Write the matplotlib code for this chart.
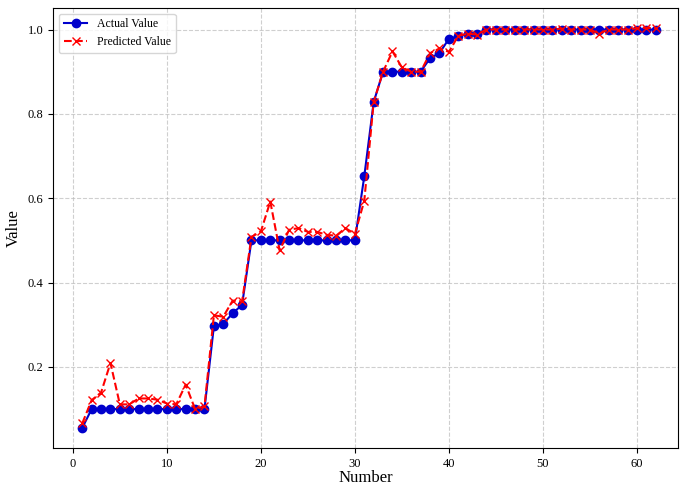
import numpy as np
import matplotlib
matplotlib.use('Agg')
import matplotlib.pyplot as plt

plt.rcParams['font.family'] = ['Liberation Serif', 'DejaVu Serif']

# Номера точек
number = np.arange(1, 63)

# Фактические значения
actual = [0.055, 0.10, 0.10, 0.10, 0.10, 0.10, 0.10, 0.10, 0.10, 0.10,
          0.10, 0.10, 0.10, 0.10, 0.296, 0.302, 0.327, 0.347, 0.50, 0.50,
          0.50, 0.50, 0.50, 0.50, 0.50, 0.50, 0.50, 0.50, 0.50, 0.50,
          0.652, 0.828, 0.90, 0.90, 0.90, 0.90, 0.90, 0.932, 0.944, 0.978,
          0.984, 0.99, 0.99, 1.0, 1.0, 1.0, 1.0, 1.0, 1.0, 1.0,
          1.0, 1.0, 1.0, 1.0, 1.0, 1.0, 1.0, 1.0, 1.0, 1.0,
          1.0, 1.0]

# Предсказанные значения
predicted = [0.066, 0.121, 0.139, 0.209, 0.111, 0.111, 0.125, 0.125, 0.122, 0.113,
             0.111, 0.158, 0.10, 0.106, 0.322, 0.319, 0.357, 0.355, 0.508, 0.521,
             0.592, 0.476, 0.525, 0.529, 0.520, 0.520, 0.513, 0.511, 0.529, 0.515,
             0.594, 0.828, 0.90, 0.948, 0.91, 0.90, 0.90, 0.944, 0.955, 0.947,
             0.985, 0.99, 0.988, 1.0, 1.0, 1.0, 1.0, 1.0, 1.0, 1.0,
             1.0, 1.002, 1.0, 1.0, 1.0, 0.99, 1.0, 1.0, 1.0, 1.003,
             1.004, 1.003]

fig = plt.figure(figsize=(6.81, 4.88), dpi=100)
ax = fig.add_axes([0.078, 0.082, 0.918, 0.902])

ax.plot(number, actual, color='#0000cc', marker='o', linestyle='-',
        markersize=6, linewidth=1.5, label='Actual Value')
ax.plot(number, predicted, color='red', marker='x', linestyle='--',
        markersize=6, linewidth=1.5, label='Predicted Value')

ax.set_xlim(-2.1, 64.4)
ax.set_xticks([0, 10, 20, 30, 40, 50, 60])
ax.set_yticks([0.2, 0.4, 0.6, 0.8, 1.0])
ax.tick_params(labelsize=9)
ax.grid(True, linestyle='--', color='#bbbbbb', alpha=0.7, linewidth=0.8)

ax.set_xlabel('Number', fontsize=12, labelpad=0)
ax.set_ylabel('Value', fontsize=12)
ax.legend(loc='upper left', fontsize=8.5)

fig.savefig('out.png', dpi=100)
